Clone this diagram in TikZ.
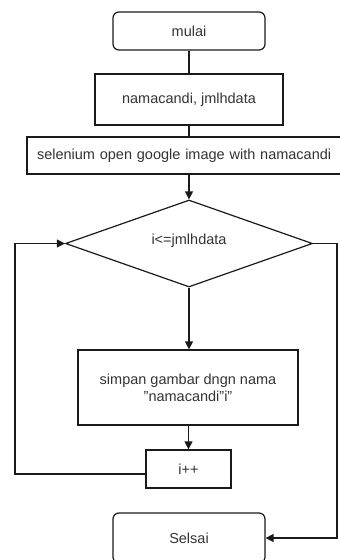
\documentclass[tikz,border=0pt]{standalone}
\usepackage{fontspec}
\setmainfont{Liberation Sans}
\usetikzlibrary{shapes.geometric,arrows.meta,calc}
\definecolor{txt}{HTML}{333333}
\definecolor{ln}{HTML}{1A1A1A}
\newcommand{\sq}{\char34\relax}
\begin{document}
\begin{tikzpicture}[x=1pt,y=-1pt,
  every node/.style={font=\fontsize{14.5}{17}\selectfont, text=txt, inner sep=0pt},
  term/.style={draw=ln, line width=1.2pt, rounded corners=6pt},
  proc/.style={draw=ln, line width=1.2pt},
  dec/.style={draw=ln, line width=1.2pt, diamond},
  conn/.style={draw=ln, line width=1.2pt},
  arr/.style={conn, -{Triangle[length=8pt,width=8pt]}}]
\useasboundingbox (0,0) rectangle (340,560);
\node[term, minimum width=152pt, minimum height=38pt] (start) at (189,31) {mulai};
\node[proc, minimum width=188pt, minimum height=51pt] (data) at (189,99.5) {namacandi, jmlhdata};
\node[proc, minimum width=324pt, minimum height=37pt, text width=324pt, align=left] (sel) at (189,155.5) {\hspace*{10pt}selenium open google image with namacandi};
\node[dec, minimum width=247pt, minimum height=87pt] (cond) at (189,243.5) {};
\node at (189,241) {i<=jmlhdata};
\node[proc, minimum width=220pt, minimum height=75pt, align=center] (save) at (188,387.5) {simpan gambar dngn nama\\\sq namacandi\sq i\sq};
\node[proc, minimum width=85pt, minimum height=38pt] (inc) at (188.5,469) {i++};
\node[term, minimum width=152pt, minimum height=50pt] (end) at (189,538) {Selsai};
\coordinate (lb) at (15,474);
\coordinate (lt) at (15,243.5);
\coordinate (rt) at (337,243.5);
\coordinate (rb) at (337,538);
\draw[conn] (start) -- (data);
\draw[conn] (data) -- (data |- sel.north);
\draw[arr] (sel.south -| cond.north) -- (cond.north);
\draw[arr] (cond.south) -- (cond.south |- save.north);
\draw[arr] (save.south -| inc.north) -- (inc.north);
\draw[arr] (inc.west |- lb) -- (lb) -- (lt) -- (cond.west);
\draw[arr] (cond.east) -- (rt) -- (rb) -- (end.east);
\end{tikzpicture}
\end{document}
